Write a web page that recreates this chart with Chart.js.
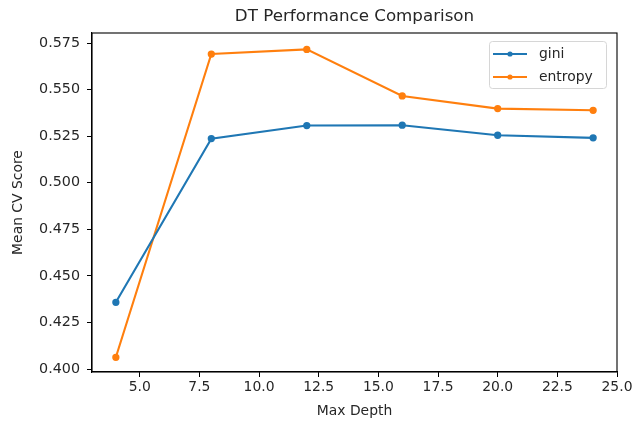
<!DOCTYPE html>
<html>
<head>
<meta charset="utf-8">
<script src="https://cdn.jsdelivr.net/npm/chart.js@4.4.0/dist/chart.umd.min.js"></script>
<style>
  html, body { margin: 0; padding: 0; background: #fff; }
  #wrap { width: 642px; height: 422px; }
</style>
</head>
<body>
<div id="wrap"><canvas id="dtChart" width="642" height="422"></canvas></div>
<script>
// dados
var maxDepth = [4, 8, 12, 16, 20, 24];
var giniScores = [0.4358, 0.5237, 0.5307, 0.5309, 0.5255, 0.5241];
var entropyScores = [0.4063, 0.5691, 0.5716, 0.5466, 0.5398, 0.5389];
var xTicks = [5, 7.5, 10, 12.5, 15, 17.5, 20, 22.5, 25];
var yTicks = [0.400, 0.425, 0.450, 0.475, 0.500, 0.525, 0.550, 0.575];
var chartTitle = 'DT Performance Comparison';

var FONT = 'DejaVu Sans';
var TXT = '#262626';

function toPoints(vals) {
    return maxDepth.map(function (d, i) { return { x: d, y: vals[i] }; });
}

// título centrado na área, moldura e legenda no canto
var frameLegend = {
    id: 'frameLegend',
    afterDraw: function (chart) {
        var c = chart.ctx, a = chart.chartArea;
        c.save();
        c.fillStyle = TXT;
        c.font = '16.7px ' + FONT;
        c.textAlign = 'center';
        c.textBaseline = 'middle';
        c.fillText(chartTitle, (a.left + a.right) / 2, 17);
        c.textAlign = 'left';

        c.strokeStyle = '#000';
        c.lineWidth = 1.1;
        c.strokeRect(a.left, a.top, a.right - a.left, a.bottom - a.top);

        var bx = a.right - 128, by = a.top + 8, bw = 117, bh = 47;
        c.fillStyle = 'rgba(255,255,255,0.8)';
        c.strokeStyle = '#d6d6d6';
        c.lineWidth = 1;
        c.beginPath();
        c.roundRect(bx + 0.5, by + 0.5, bw, bh, 3);
        c.fill();
        c.stroke();

        c.font = '13.9px ' + FONT;
        chart.data.datasets.forEach(function (ds, i) {
            var y = by + 13 + i * 23;
            c.strokeStyle = ds.borderColor;
            c.lineWidth = 2.1;
            c.beginPath();
            c.moveTo(bx + 4, y);
            c.lineTo(bx + 38, y);
            c.stroke();
            c.fillStyle = ds.borderColor;
            c.beginPath();
            c.arc(bx + 21, y, 2.6, 0, Math.PI * 2);
            c.fill();
            c.fillStyle = TXT;
            c.fillText(ds.label, bx + 50, y);
        });
        c.restore();
    }
};

var ctx = document.getElementById('dtChart').getContext('2d');
var dtChart = new Chart(ctx, {
    type: 'scatter',
    data: {
        datasets: [{
            label: 'gini',
            data: toPoints(giniScores),
            showLine: true,
            borderColor: '#1f77b4',
            backgroundColor: '#1f77b4',
            borderWidth: 2.1,
            pointRadius: 2.6,
            pointHoverRadius: 2.6,
            tension: 0
        }, {
            label: 'entropy',
            data: toPoints(entropyScores),
            showLine: true,
            borderColor: '#ff7f0e',
            backgroundColor: '#ff7f0e',
            borderWidth: 2.1,
            pointRadius: 2.6,
            pointHoverRadius: 2.6,
            tension: 0
        }]
    },
    options: {
        responsive: false,
        animation: false,
        layout: { padding: { left: 0, right: 25, top: 33, bottom: 0 } },
        plugins: {
            legend: { display: false },
            tooltip: { enabled: false },
            title: { display: false }
        },
        scales: {
            x: {
                type: 'linear',
                min: 3,
                max: 25,
                afterBuildTicks: function (s) {
                    s.ticks = xTicks.map(function (v) { return { value: v }; });
                },
                afterFit: function (s) { s.height = 50; },
                ticks: {
                    color: TXT,
                    font: { family: FONT, size: 13.9 },
                    padding: 2,
                    maxRotation: 0,
                    autoSkip: false,
                    callback: function (v) { return Number(v).toFixed(1); }
                },
                grid: { display: true, drawOnChartArea: false, drawTicks: true, tickLength: 5, color: '#000' },
                border: { display: true, color: '#000', width: 1.1 },
                title: {
                    display: true,
                    text: 'Max Depth',
                    color: TXT,
                    font: { family: FONT, size: 13.9 },
                    padding: { top: 0, bottom: 2 }
                }
            },
            y: {
                type: 'linear',
                min: 0.3984,
                max: 0.5804,
                afterBuildTicks: function (s) {
                    s.ticks = yTicks.map(function (v) { return { value: v }; });
                },
                afterFit: function (s) { s.width = 92; },
                ticks: {
                    color: TXT,
                    font: { family: FONT, size: 14.3 },
                    padding: 7,
                    autoSkip: false,
                    callback: function (v) { return Number(v).toFixed(3); }
                },
                grid: { display: true, drawOnChartArea: false, drawTicks: true, tickLength: 5, color: '#000' },
                border: { display: true, color: '#000', width: 1.1 },
                title: {
                    display: true,
                    text: 'Mean CV Score',
                    color: TXT,
                    font: { family: FONT, size: 13.9 },
                    padding: { top: 10, bottom: 0 }
                }
            }
        }
    },
    plugins: [frameLegend]
});
</script>
</body>
</html>
